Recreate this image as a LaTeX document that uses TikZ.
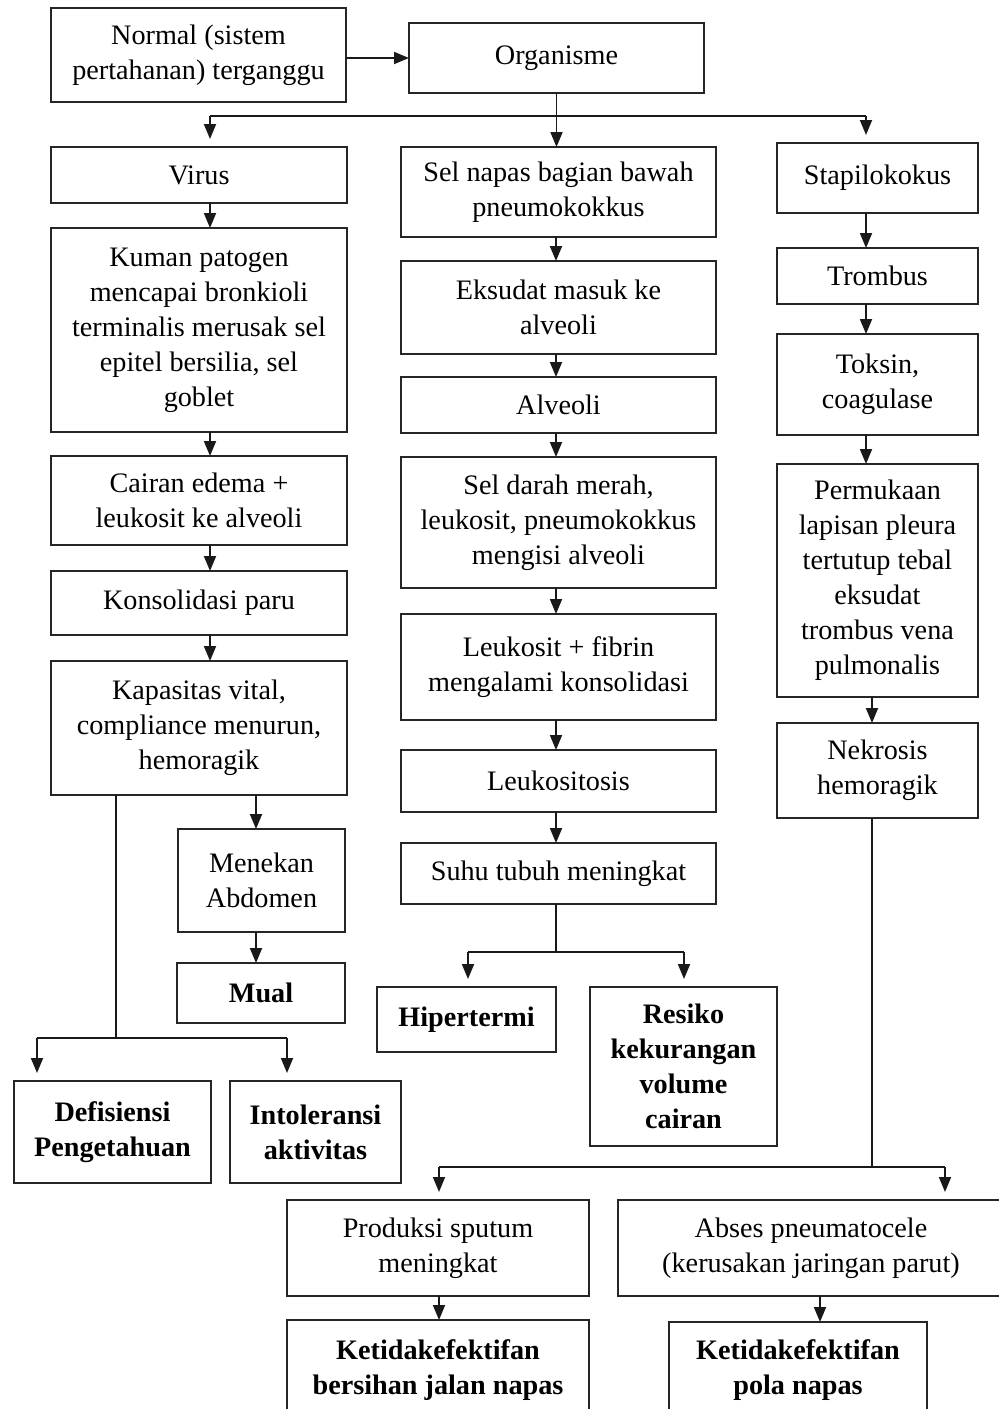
\documentclass[tikz,border=0pt]{standalone}
\usepackage{fontspec}
\setmainfont{Liberation Serif}
\usetikzlibrary{arrows.meta}
\tikzset{
 box/.style={draw=black!85,line width=1.8pt,inner sep=0pt,outer sep=0pt,align=center,font=\fontsize{28.2}{35}\selectfont},
 bbox/.style={box,font=\fontsize{28.2}{35}\selectfont\bfseries},
 conn/.style={draw=black!90,line width=1.8pt},
 arr/.style={conn,-{Triangle[length=15pt,width=12pt]}},
 arrj/.style={arr,shorten >=8pt},
}
\newcommand\bx[7][box]{\node[#1,minimum width={(#5-#3)*1pt},minimum height={(#6-#4)*1pt}] (#2) at ({(#3+#5)/2},{(#4+#6)/2}) {#7};}
\begin{document}
\begin{tikzpicture}[x=1pt,y=-1pt]
\path[use as bounding box] (0,0) rectangle (999,1409);
\clip (0,0) rectangle (999,1409);
% left column
\bx{normal}{51}{8}{346}{102}{Normal (sistem\\pertahanan) terganggu}
\bx{org}{409}{23}{704}{93}{Organisme}
\bx{virus}{51}{147}{347}{203}{Virus}
\bx{kuman}{51}{228}{347}{432}{Kuman patogen\\mencapai bronkioli\\terminalis merusak sel\\epitel bersilia, sel\\goblet}
\bx{cairan}{51}{456}{347}{545}{Cairan edema +\\leukosit ke alveoli}
\bx{konsol}{51}{571}{347}{635}{Konsolidasi paru}
\bx{kapas}{51}{661}{347}{795}{Kapasitas vital,\\compliance menurun,\\hemoragik}
\bx{menekan}{178}{829}{345}{932}{Menekan\\Abdomen}
\bx[bbox]{mual}{177}{963}{345}{1023}{Mual}
\bx[bbox]{defis}{14}{1081}{211}{1183}{Defisiensi\\Pengetahuan}
\bx[bbox]{intol}{230}{1081}{401}{1183}{Intoleransi\\aktivitas}
% middle column
\bx{selnapas}{401}{147}{716}{237}{Sel napas bagian bawah\\pneumokokkus}
\bx{eksudat}{401}{261}{716}{354}{Eksudat masuk ke\\alveoli}
\bx{alveoli}{401}{377}{716}{433}{Alveoli}
\bx{seldarah}{401}{457}{716}{588}{Sel darah merah,\\leukosit, pneumokokkus\\mengisi alveoli}
\bx{leufib}{401}{614}{716}{720}{Leukosit + fibrin\\mengalami konsolidasi}
\bx{leukos}{401}{750}{716}{812}{Leukositosis}
\bx{suhu}{401}{843}{716}{904}{Suhu tubuh meningkat}
\bx[bbox]{hiper}{377}{987}{556}{1052}{Hipertermi}
\bx[bbox]{resiko}{590}{987}{777}{1146}{Resiko\\kekurangan\\volume\\cairan}
% right column
\bx{stap}{777}{143}{978}{213}{Stapilokokus}
\bx{trombus}{777}{248}{978}{304}{Trombus}
\bx{toksin}{777}{334}{978}{435}{Toksin,\\coagulase}
\bx{permuk}{777}{464}{978}{697}{Permukaan\\lapisan pleura\\tertutup tebal\\eksudat\\trombus vena\\pulmonalis}
\bx{nekrosis}{777}{723}{978}{818}{Nekrosis\\hemoragik}
% bottom
\bx{produksi}{287}{1200}{589}{1296}{Produksi sputum\\meningkat}
\bx{abses}{618}{1200}{1004}{1296}{Abses pneumatocele\\(kerusakan jaringan parut)}
\bx[bbox]{ket1}{287}{1320}{589}{1420}{Ketidakefektifan\\bersihan jalan napas}
\bx[bbox]{ket2}{669}{1322}{927}{1418}{Ketidakefektifan\\pola napas}
% connectors top
\draw[arr] (normal.east |- org.west) -- (org.west);
\coordinate (jl) at (210,116);
\coordinate (jr) at (866,116);
\draw[conn] (jl) -- (jr);
\draw[arr] (org.south) -- (org.south |- selnapas.north);
\draw[arrj] (jl) -- (jl |- virus.north);
\draw[arrj] (jr) -- (jr |- stap.north);
% left chain
\coordinate (cl) at (210,0);
\foreach \a/\b in {virus/kuman,kuman/cairan,cairan/konsol,konsol/kapas}
  \draw[arr] (\a.south -| cl) -- (\b.north -| cl);
\coordinate (cm) at (256,0);
\draw[arr] (kapas.south -| cm) -- (menekan.north -| cm);
\draw[arr] (menekan.south -| cm) -- (mual.north -| cm);
\coordinate (jk) at (116,1038);
\coordinate (jkl) at (37,1038);
\coordinate (jkr) at (287,1038);
\draw[conn] (kapas.south -| jk) -- (jk);
\draw[conn] (jkl) -- (jkr);
\draw[arrj] (jkl) -- (jkl |- defis.north);
\draw[arrj] (jkr) -- (jkr |- intol.north);
% middle chain
\coordinate (cc) at (556,0);
\foreach \a/\b in {selnapas/eksudat,eksudat/alveoli,alveoli/seldarah,seldarah/leufib,leufib/leukos,leukos/suhu}
  \draw[arr] (\a.south -| cc) -- (\b.north -| cc);
\coordinate (js) at (556,952);
\coordinate (jsl) at (468,952);
\coordinate (jsr) at (684,952);
\draw[conn] (suhu.south -| js) -- (js);
\draw[conn] (jsl) -- (jsr);
\draw[arrj] (jsl) -- (jsl |- hiper.north);
\draw[arrj] (jsr) -- (jsr |- resiko.north);
% right chain
\coordinate (cr) at (866,0);
\foreach \a/\b in {stap/trombus,trombus/toksin,toksin/permuk}
  \draw[arr] (\a.south -| cr) -- (\b.north -| cr);
\coordinate (cr2) at (872,0);
\draw[arr] (permuk.south -| cr2) -- (nekrosis.north -| cr2);
\coordinate (jn) at (872,1167);
\coordinate (jnl) at (439,1167);
\coordinate (jnr) at (945,1167);
\draw[conn] (nekrosis.south -| jn) -- (jn);
\draw[conn] (jnl) -- (jnr);
\draw[arrj] (jnl) -- (jnl |- produksi.north);
\draw[arrj] (jnr) -- (jnr |- abses.north);
\coordinate (cb1) at (439,0);
\coordinate (cb2) at (820,0);
\draw[arr] (produksi.south -| cb1) -- (ket1.north -| cb1);
\draw[arr] (abses.south -| cb2) -- (ket2.north -| cb2);
\end{tikzpicture}
\end{document}
